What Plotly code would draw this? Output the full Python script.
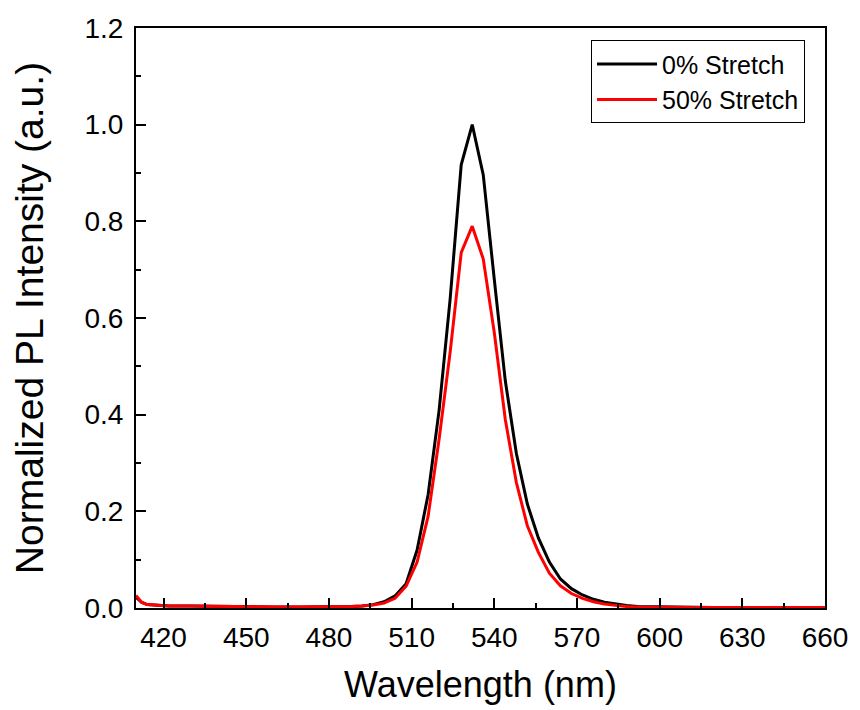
import plotly.graph_objects as go

# Wavelength grid (nm) and normalized PL spectra
wavelength = [410, 412, 414, 418, 422, 430, 440, 450, 460, 470, 480, 488, 492, 496, 500,
              504, 508, 512, 516, 520, 524, 528, 532, 536, 540, 544, 548, 552, 556, 560,
              564, 568, 572, 576, 580, 584, 588, 592, 600, 610, 620, 640, 660]

stretch_0 = [0.022, 0.012, 0.007, 0.005, 0.004, 0.004, 0.003, 0.002, 0.002, 0.002, 0.002, 0.003,
             0.004, 0.007, 0.013, 0.025, 0.05, 0.12, 0.235, 0.41, 0.64, 0.917, 1.0, 0.896, 0.68,
             0.47, 0.32, 0.215, 0.145, 0.095, 0.06, 0.04, 0.027, 0.018, 0.012, 0.008, 0.005,
             0.003, 0.002, 0.001, 0.001, 0.001, 0.001]

stretch_50 = [0.026, 0.012, 0.007, 0.005, 0.004, 0.004, 0.003, 0.002, 0.002, 0.002, 0.002, 0.003,
              0.004, 0.006, 0.01, 0.02, 0.045, 0.095, 0.19, 0.35, 0.53, 0.735, 0.79, 0.722, 0.57,
              0.39, 0.26, 0.17, 0.115, 0.072, 0.046, 0.03, 0.02, 0.013, 0.008, 0.005, 0.003,
              0.002, 0.001, 0.001, 0.001, 0.001, 0.001]

series_names = ["0% Stretch", "50% Stretch"]
series_colors = ["black", "#ff0000"]
x_ticks = [420, 450, 480, 510, 540, 570, 600, 630, 660]
y_ticks = [0.0, 0.2, 0.4, 0.6, 0.8, 1.0, 1.2]

font_family = "Liberation Sans, Arial, sans-serif"

fig = go.Figure()
for name, values, color in zip(series_names, [stretch_0, stretch_50], series_colors):
    fig.add_trace(go.Scatter(x=wavelength, y=values, mode="lines", name=name,
                             line=dict(color=color, width=3)))

axis_common = dict(
    showgrid=False, zeroline=False,
    showline=True, linecolor="black", linewidth=2, mirror=True,
    ticks="inside", ticklen=10, tickwidth=2, tickcolor="black",
    tickfont=dict(family=font_family, size=28, color="black"),
)

fig.update_xaxes(
    range=[410, 660], tickvals=x_ticks, ticktext=[str(v) for v in x_ticks],
    minor=dict(ticks="inside", ticklen=5, tickwidth=2, tickcolor="black", dtick=15, tick0=405),
    ticklabelstandoff=3,
    title=dict(text="Wavelength (nm)", font=dict(family=font_family, size=36, color="black"),
               standoff=20),
    **axis_common,
)
fig.update_yaxes(
    range=[0, 1.2], tickvals=y_ticks, ticktext=[f"{v:.1f}" for v in y_ticks],
    minor=dict(ticks="inside", ticklen=5, tickwidth=2, tickcolor="black", dtick=0.1, tick0=0),
    ticklabelstandoff=5,
    title=dict(text="Normalized PL Intensity (a.u.)",
               font=dict(family=font_family, size=39, color="black"), standoff=29),
    **axis_common,
)

fig.update_layout(
    width=860, height=710,
    margin=dict(l=136, r=29, t=28, b=101),
    paper_bgcolor="white", plot_bgcolor="white",
    showlegend=True,
    legend=dict(x=0.971, y=0.979, xanchor="right", yanchor="top",
                bgcolor="white", bordercolor="black", borderwidth=1,
                font=dict(family=font_family, size=25, color="black"),
                itemwidth=60),
)

fig.write_html("out.html")
